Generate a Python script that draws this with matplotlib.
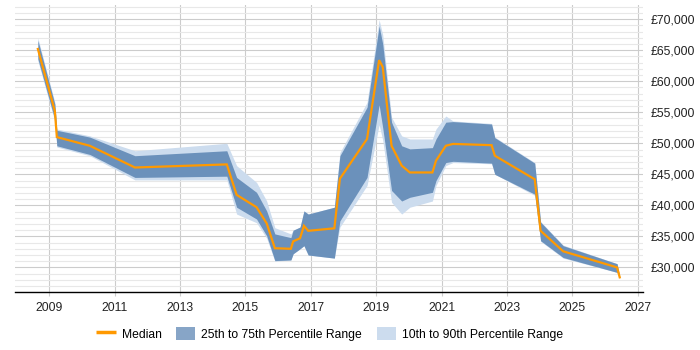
import matplotlib
matplotlib.use("Agg")
import matplotlib.pyplot as plt
from matplotlib.lines import Line2D
from matplotlib.patches import Patch
from matplotlib.ticker import MultipleLocator, FuncFormatter

plt.rcParams['font.family'] = ['Liberation Sans', 'DejaVu Sans']

# decimal years
years = [2008.65, 2009.17, 2009.23, 2010.24, 2011.62, 2014.43, 2014.73, 2015.34,
         2015.65, 2015.90, 2016.39, 2016.46, 2016.67, 2016.79, 2016.92, 2017.72,
         2017.89, 2018.72, 2019.09, 2019.20, 2019.47, 2019.78, 2020.03, 2020.72,
         2020.83, 2021.13, 2021.35, 2022.53, 2022.63, 2023.85, 2024.03, 2024.72,
         2026.37, 2026.45]
median = [65200, 55200, 51000, 49600, 46100, 46600, 41700, 39700,
          37100, 33100, 33000, 34200, 34700, 36700, 35900, 36300,
          44300, 50700, 63400, 62300, 49600, 46400, 45300, 45300,
          47200, 49600, 49900, 49700, 48000, 44200, 35900, 32600,
          30000, 28400]
p25 = [63600, 53800, 49600, 48200, 44500, 44700, 39700, 37800,
       35100, 31100, 31200, 32200, 33000, 33500, 32000, 31500,
       37500, 44500, 56200, 52500, 42400, 40700, 41300, 42100,
       44000, 46900, 47100, 46800, 45000, 41800, 34300, 31600,
       29200, 28400]
p75 = [66600, 56300, 52100, 51000, 48000, 48800, 44500, 42100,
       39100, 35400, 34800, 36000, 36500, 39100, 38600, 39700,
       48000, 55800, 68900, 66000, 53400, 49600, 49100, 49300,
       50700, 53400, 53500, 53100, 50900, 46800, 37300, 33500,
       30600, 28500]
p10 = [63300, 53500, 49400, 48000, 44100, 44100, 38600, 37200,
       34700, 31000, 31200, 32200, 33000, 33500, 32000, 31500,
       36500, 43200, 53000, 50500, 40500, 38600, 39700, 40700,
       43200, 46400, 46900, 46700, 45000, 41600, 34200, 31500,
       29200, 28400]
p90 = [67000, 56600, 52300, 51200, 48800, 50000, 46400, 43700,
       40700, 36400, 35400, 36000, 36500, 39100, 38600, 39700,
       48500, 56600, 69900, 67500, 54200, 51200, 50700, 50700,
       52300, 54400, 53600, 53200, 51000, 46900, 37400, 33600,
       30600, 28500]
xticks = list(range(2009, 2028, 2))

orange = '#ff9900'
dark = '#6b91bb'
light = '#ccdcee'

fig = plt.figure(figsize=(7, 3.5), dpi=100)
ax = fig.add_axes([0.0214, 0.165, 0.8966, 0.821])

ax.fill_between(years, p10, p90, color=light, lw=0, zorder=2)
ax.fill_between(years, p25, p75, color=dark, lw=0, zorder=3)
ax.plot(years, median, color=orange, lw=1.6, zorder=4, solid_joinstyle='miter')

ax.set_xlim(2007.95, 2027.15)
ax.set_ylim(26000, 72300)
ax.set_xticks(xticks)
ax.set_xticklabels([str(y) for y in xticks])
ax.yaxis.set_major_locator(MultipleLocator(5000))
ax.yaxis.set_minor_locator(MultipleLocator(1000))
ax.yaxis.set_major_formatter(FuncFormatter(lambda v, p: "£{:,.0f}".format(v)))
ax.yaxis.tick_right()

ax.grid(which='major', axis='both', color='#cccccc', lw=0.8, zorder=0)
ax.grid(which='minor', axis='y', color='#e8e8e8', lw=0.8, zorder=0)
ax.set_axisbelow(True)

for s in ['top', 'left', 'right']:
    ax.spines[s].set_visible(False)
ax.spines['bottom'].set_color('black')
ax.spines['bottom'].set_linewidth(1)

ax.tick_params(axis='y', which='both', length=0, labelsize=8.8, pad=6, colors='#222222')
ax.tick_params(axis='x', length=3, color='#cccccc', labelsize=8.8, pad=4, labelcolor='#222222')

handles = [Line2D([0], [0], color=orange, lw=2.5, solid_capstyle='butt'),
           Patch(facecolor='#87a5c7', edgecolor='none'),
           Patch(facecolor=light, edgecolor='none')]
labels = ['Median', '25th to 75th Percentile Range', '10th to 90th Percentile Range']
fig.legend(handles, labels, loc='center', bbox_to_anchor=(0.471, 0.046), ncol=3,
           frameon=False, fontsize=8.7, handlelength=1.6, handleheight=1.3,
           columnspacing=1.2, handletextpad=0.5)

fig.savefig('out.png', dpi=100)
